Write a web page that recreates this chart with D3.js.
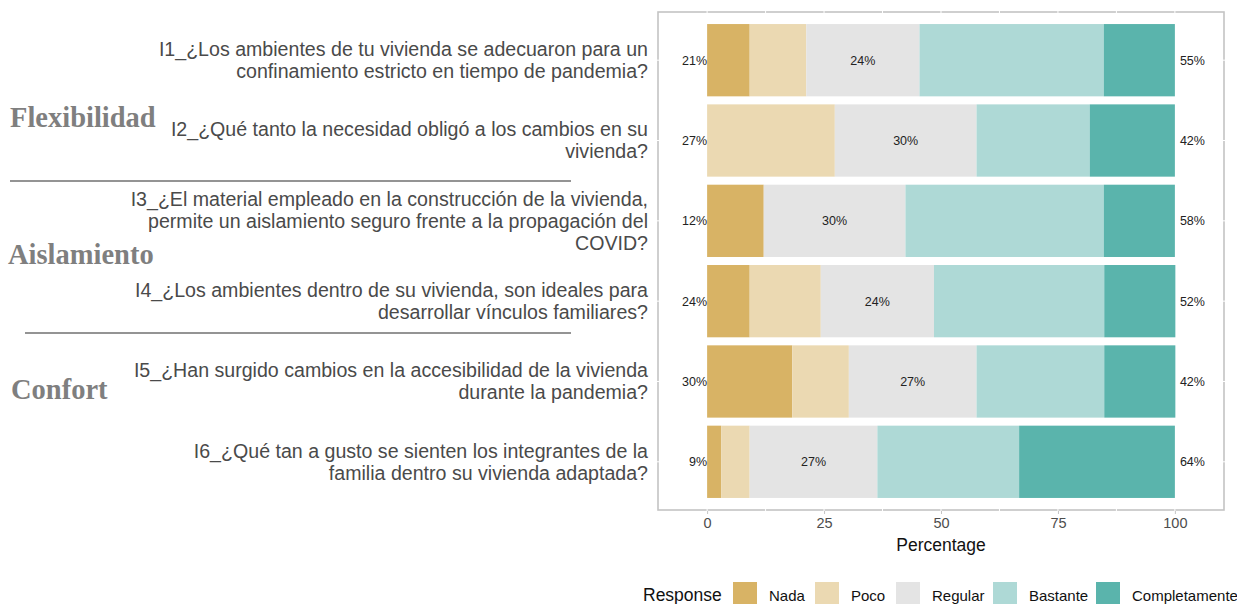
<!DOCTYPE html>
<html>
<head>
<meta charset="utf-8">
<script src="https://cdn.jsdelivr.net/npm/d3@7"></script>
<style>
  body { margin: 0; background: #fff; overflow: hidden; }
</style>
</head>
<body>
<div id="container"></div>
<script>
/* CONSTANTS AND GLOBALS */
const width = 1237,
  height = 604;

const sans = "Liberation Sans, Arial, sans-serif",
  serif = "Liberation Serif, Times New Roman, serif";

// panel box (ggplot-like)
const panel = { left: 658, right: 1224, top: 12, bottom: 510 };

/* DATA */
const questions = ["I1", "I2", "I3", "I4", "I5", "I6"];
const questionLines = [
  ["I1_¿Los ambientes de tu vivienda se adecuaron para un", "confinamiento estricto en tiempo de pandemia?"],
  ["I2_¿Qué tanto la necesidad obligó a los cambios en su", "vivienda?"],
  ["I3_¿El material empleado en la construcción de la vivienda,", "permite un aislamiento seguro frente a la propagación del", "COVID?"],
  ["I4_¿Los ambientes dentro de su vivienda, son ideales para", "desarrollar vínculos familiares?"],
  ["I5_¿Han surgido cambios en la accesibilidad de la vivienda", "durante la pandemia?"],
  ["I6_¿Qué tan a gusto se sienten los integrantes de la", "familia dentro su vivienda adaptada?"]
];
const responses = ["Nada", "Poco", "Regular", "Bastante", "Completamente"];
const colors = ["#d8b365", "#ebd9b2", "#e4e4e4", "#aed9d6", "#5ab4ac"];

// percentages per response, one array per question
const nada          = [9.1, 0.0, 12.1, 9.1, 18.2, 3.0];
const poco          = [12.1, 27.3, 0.0, 15.2, 12.1, 6.1];
const regular       = [24.2, 30.3, 30.3, 24.2, 27.3, 27.3];
const bastante      = [39.4, 24.2, 42.4, 36.4, 27.3, 30.3];
const completamente = [15.2, 18.2, 15.2, 15.2, 15.2, 33.3];

// printed labels
const lowLabels  = ["21%", "27%", "12%", "24%", "30%", "9%"];
const midLabels  = ["24%", "30%", "30%", "24%", "27%", "27%"];
const highLabels = ["55%", "42%", "58%", "52%", "42%", "64%"];

const groups = ["Flexibilidad", "Aislamiento", "Confort"];
const xTicks = [0, 25, 50, 75, 100];

const series = [nada, poco, regular, bastante, completamente];
const rows = questions.map((q, i) => {
  const r = { q: q };
  responses.forEach((name, j) => r[name] = series[j][i]);
  return r;
});
const stacked = d3.stack().keys(responses)(rows);

/* SCALES */
const xScale = d3.scaleLinear()
  .domain([-10.5, 110.5])
  .range([panel.left, panel.right]);

const yScale = d3.scalePoint()
  .domain(questions)
  .range([panel.top, panel.bottom])
  .padding(0.6);

const barH = yScale.step() * 0.9;
const color = d3.scaleOrdinal().domain(responses).range(colors);

/* SVG */
const svg = d3.select("#container")
  .append("svg")
  .attr("width", width)
  .attr("height", height)
  .style("font-family", sans);

// gridlines are white, they only show where they cross the border
const minor = d3.range(0, 100.1, 12.5);

svg.append("rect")
  .attr("x", panel.left)
  .attr("y", panel.top)
  .attr("width", panel.right - panel.left)
  .attr("height", panel.bottom - panel.top)
  .attr("fill", "white")
  .attr("stroke", "#c4c4c4")
  .attr("stroke-width", 1.6);

svg.selectAll(".vgrid")
  .data(minor)
  .join("line")
  .attr("class", "vgrid")
  .attr("x1", d => xScale(d)).attr("x2", d => xScale(d))
  .attr("y1", panel.top - 1).attr("y2", panel.bottom + 1)
  .attr("stroke", "white")
  .attr("stroke-width", 1);

svg.selectAll(".hgrid")
  .data(questions)
  .join("line")
  .attr("class", "hgrid")
  .attr("y1", d => yScale(d)).attr("y2", d => yScale(d))
  .attr("x1", panel.left - 1).attr("x2", panel.right + 1)
  .attr("stroke", "white")
  .attr("stroke-width", 1);

// bars
svg.selectAll(".layer")
  .data(stacked)
  .join("g")
  .attr("class", "layer")
  .attr("fill", d => color(d.key))
  .selectAll("rect")
  .data(d => d)
  .join("rect")
  .attr("x", d => xScale(d[0]))
  .attr("width", d => xScale(d[1]) - xScale(d[0]))
  .attr("y", d => yScale(d.data.q) - barH / 2)
  .attr("height", barH);

// percentage labels
const labelFont = 12.5;
svg.selectAll(".low")
  .data(questions)
  .join("text")
  .attr("x", xScale(0))
  .attr("y", d => yScale(d))
  .attr("dy", "0.35em")
  .attr("text-anchor", "end")
  .attr("font-size", labelFont)
  .attr("fill", "#222")
  .text((d, i) => lowLabels[i]);

svg.selectAll(".mid")
  .data(stacked[2])
  .join("text")
  .attr("x", d => xScale((d[0] + d[1]) / 2))
  .attr("y", d => yScale(d.data.q))
  .attr("dy", "0.35em")
  .attr("text-anchor", "middle")
  .attr("font-size", labelFont)
  .attr("fill", "#222")
  .text((d, i) => midLabels[i]);

svg.selectAll(".high")
  .data(questions)
  .join("text")
  .attr("x", xScale(100) + 5)
  .attr("y", d => yScale(d))
  .attr("dy", "0.35em")
  .attr("text-anchor", "start")
  .attr("font-size", labelFont)
  .attr("fill", "#222")
  .text((d, i) => highLabels[i]);

// x axis
const xAxis = d3.axisBottom(xScale)
  .tickValues(xTicks)
  .tickSize(3)
  .tickPadding(4)
  .tickFormat(d3.format("d"));

const xAxisG = svg.append("g")
  .attr("transform", `translate(0,${panel.bottom + 1})`)
  .call(xAxis);
xAxisG.select(".domain").remove();
xAxisG.selectAll(".tick line").attr("stroke", "#c4c4c4");
xAxisG.selectAll(".tick text")
  .attr("font-size", 14.5)
  .attr("fill", "#4d4d4d")
  .style("font-family", sans);

svg.append("text")
  .attr("x", (xScale(-10.5) + xScale(110.5)) / 2)
  .attr("y", 551)
  .attr("text-anchor", "middle")
  .attr("font-size", 17.5)
  .attr("fill", "#111")
  .text("Percentage");

// question labels, right aligned
const lineH = 22;
svg.selectAll(".qlab")
  .data(questions)
  .join("text")
  .attr("class", "qlab")
  .attr("text-anchor", "end")
  .attr("font-size", 19.6)
  .attr("fill", "#4a4a4a")
  .each(function (d, i) {
    const lines = questionLines[i];
    const y0 = yScale(d) - (lines.length - 1) * lineH / 2;
    d3.select(this).selectAll("tspan")
      .data(lines)
      .join("tspan")
      .attr("x", 648)
      .attr("y", (l, k) => y0 + k * lineH)
      .attr("dy", "0.35em")
      .text(l => l);
  });

// group headings and separators
const groupPos = [
  { x: 10, y: 127 },
  { x: 8, y: 264 },
  { x: 11, y: 399 }
];
svg.selectAll(".group")
  .data(groups)
  .join("text")
  .attr("class", "group")
  .attr("x", (d, i) => groupPos[i].x)
  .attr("y", (d, i) => groupPos[i].y)
  .style("font-family", serif)
  .attr("font-weight", "bold")
  .attr("font-size", 28.5)
  .attr("fill", "#7f7f7f")
  .text(d => d);

const separators = [
  { x1: 10, x2: 571, y: 181 },
  { x1: 25, x2: 571, y: 333 }
];
svg.selectAll(".sep")
  .data(separators)
  .join("line")
  .attr("x1", d => d.x1).attr("x2", d => d.x2)
  .attr("y1", d => d.y).attr("y2", d => d.y)
  .attr("stroke", "#707070")
  .attr("stroke-width", 1.3);

// legend
const legend = svg.append("g");
legend.append("text")
  .attr("x", 643)
  .attr("y", 601)
  .attr("font-size", 17.5)
  .attr("fill", "#111")
  .text("Response");

const legendX = [733, 815, 896, 993, 1096];
const keys = legend.selectAll(".key")
  .data(responses)
  .join("g")
  .attr("class", "key")
  .attr("transform", (d, i) => `translate(${legendX[i]},582)`);

keys.append("rect")
  .attr("width", 24)
  .attr("height", 24)
  .attr("fill", d => color(d));

keys.append("text")
  .attr("x", 36)
  .attr("y", 19)
  .attr("font-size", 15)
  .attr("fill", "#111")
  .text(d => d);
</script>
</body>
</html>
